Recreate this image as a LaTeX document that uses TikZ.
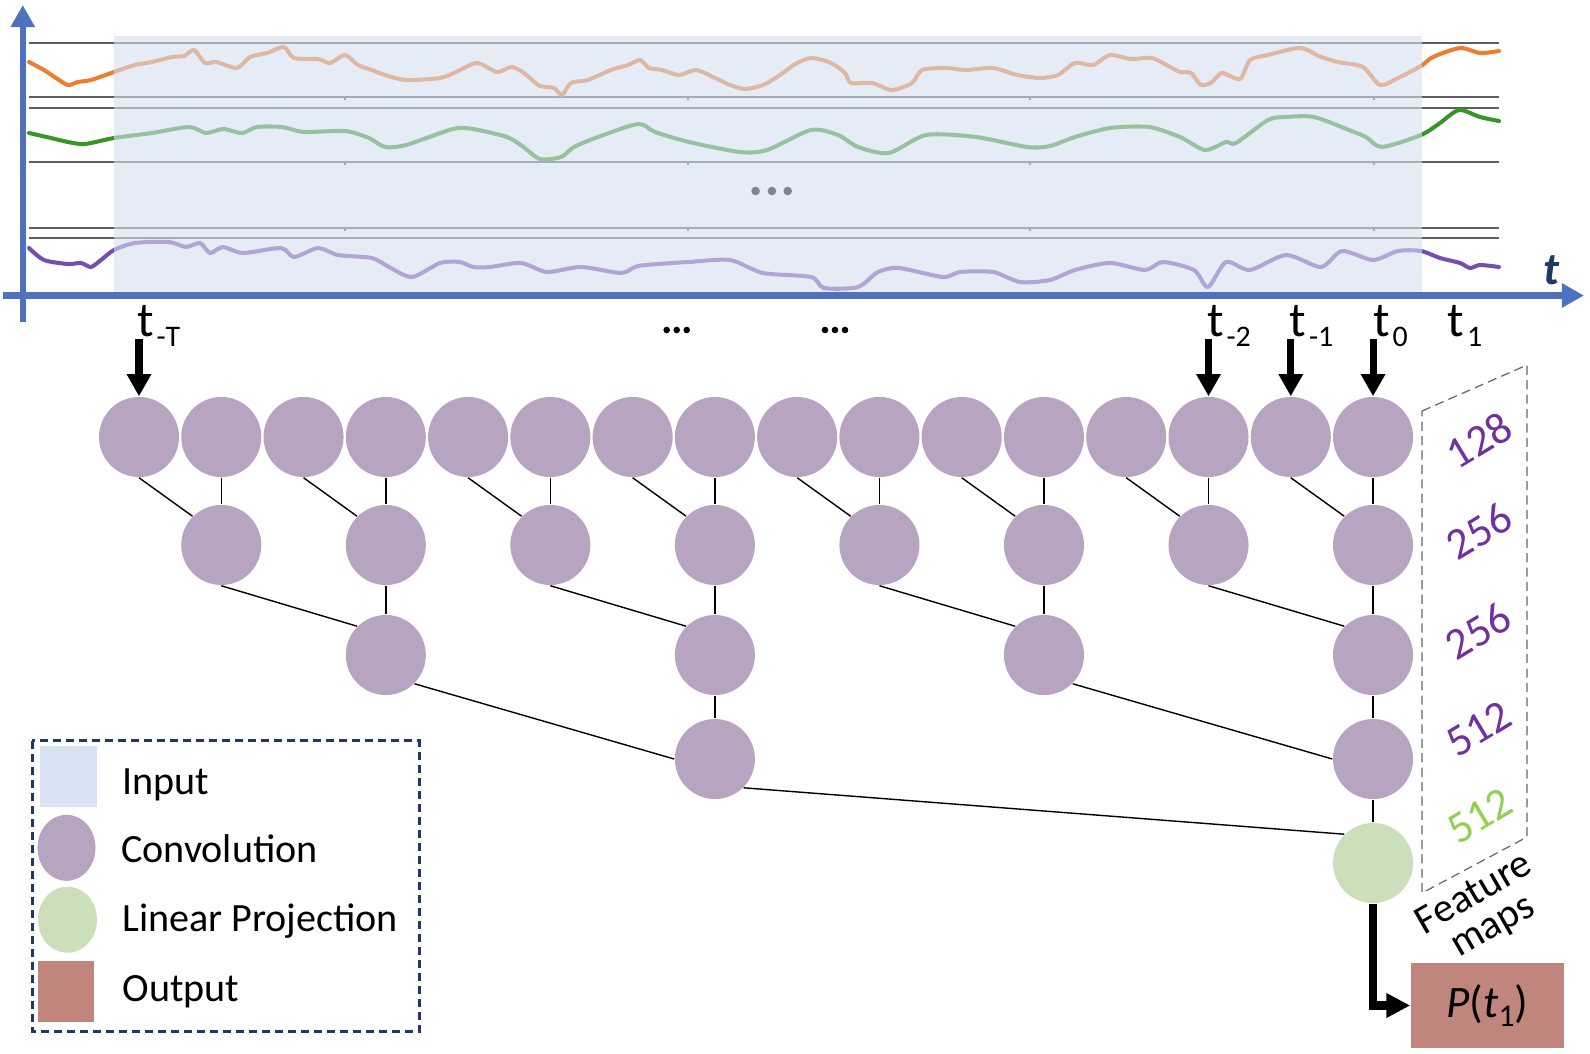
\documentclass[tikz,border=0pt]{standalone}
\usepackage{fontspec}
\setmainfont{Carlito}
\usetikzlibrary{arrows.meta,shapes.geometric}
\definecolor{axisblue}{RGB}{79,114,190}
\definecolor{navy}{RGB}{31,56,100}
\definecolor{convc}{RGB}{182,164,193}
\definecolor{linc}{RGB}{203,223,186}
\definecolor{outc}{RGB}{192,133,124}
\definecolor{inpc}{RGB}{218,227,243}
\definecolor{shadec}{RGB}{214,224,240}
\definecolor{orangec}{RGB}{237,125,49}
\definecolor{greenc}{RGB}{56,150,40}
\definecolor{purplec}{RGB}{118,78,176}
\definecolor{numpurple}{RGB}{112,48,160}
\definecolor{numgreen}{RGB}{146,208,80}
\definecolor{chartline}{RGB}{95,95,95}
\definecolor{dotgrey}{RGB}{128,132,140}
\definecolor{legnavy}{RGB}{32,56,100}
\newcommand{\tlab}[1]{{\fontsize{14pt}{14pt}\selectfont t}\hspace{0.8pt}\raisebox{-3pt}{\fontsize{8.5pt}{8.5pt}\selectfont #1}}
\begin{document}
\begin{tikzpicture}[x=0.01cm,y=-0.01cm,
  conv/.style={circle, fill=convc, minimum size=0.8cm, inner sep=0pt},
  linp/.style={circle, fill=linc, minimum size=0.8cm, inner sep=0pt},
  edge/.style={line width=0.4pt, black},
  inarrow/.style={line width=2pt, -{Triangle[width=6.6pt,length=6.3pt]}},
  outarrow/.style={line width=2.3pt, -{Triangle[width=6.6pt,length=6.8pt]}},
  axisarrow/.style={axisblue, line width=1.85pt, -{Triangle[width=6.6pt,length=6.3pt]}},
  gridline/.style={chartline, line width=0.5pt},
  series/.style={line width=1.15pt, line join=round, line cap=round},
  lbl/.style={inner sep=0pt, anchor=base west},
  num/.style={rotate=31, inner sep=0pt, font=\fontsize{12.6pt}{13pt}\selectfont},
  legtext/.style={anchor=base west, inner sep=0pt, font=\fontsize{11.4pt}{13pt}\selectfont},
  fmbox/.style={draw=black!60, line width=0.35pt, dash pattern=on 2.6pt off 1.5pt},
  legbox/.style={draw=legnavy, line width=0.7pt, dash pattern=on 2.3pt off 1.4pt}
]
\useasboundingbox (0,0) rectangle (1590,1054);

% ---------- chart ----------
\foreach \y in {43,97,108,162,228,238}
  \draw[gridline] (29,\y) -- (1499,\y);
\foreach \x in {345,688,1030,1374}
  \foreach \y in {97,162,228}
    \draw[chartline, line width=0.8pt] (\x,\y) -- (\x,\y+3);

\draw[series, orangec] plot[smooth, tension=0.45] coordinates {
(29,62) (44,70) (56,78) (68,85) (78,82) (91,80) (114,72) (135,65) (152,62) (172,57) (184,56) (194,50) (205,63) (216,62) (237,68) (250,57) (267,53) (284,47) (294,58) (318,59) (330,63) (345,55) (358,65) (372,70) (385,75) (406,80) (440,78) (456,72) (477,63) (497,72) (511,67) (521,71) (530,78) (540,86) (554,88) (562,95) (571,83) (588,80) (611,70) (628,65) (640,60) (649,68) (662,70) (679,75) (696,70) (713,77) (730,85) (745,89) (763,85) (780,75) (797,63) (812,58) (831,63) (845,73) (851,83) (872,83) (892,90) (912,83) (922,70) (946,68) (966,70) (993,68) (1017,75) (1040,78) (1058,75) (1075,63) (1093,65) (1110,55) (1131,59) (1152,58) (1170,67) (1180,72) (1191,73) (1201,85) (1212,82) (1222,73) (1240,79) (1250,60) (1268,55) (1300,48) (1321,57) (1338,62) (1363,67) (1380,85) (1398,78) (1421,66) (1433,57) (1460,48) (1480,53) (1499,51)};

\draw[series, greenc] plot[smooth, tension=0.45] coordinates {
(29,133) (51,138) (68,142) (85,144) (114,138) (152,133) (189,127) (206,133) (223,129) (242,133) (257,127) (282,127) (304,132) (345,131) (369,138) (385,147) (406,145) (453,129) (473,129) (507,137) (522,146) (540,159) (561,157) (574,147) (598,137) (638,124) (655,132) (689,142) (740,152) (767,150) (811,130) (838,135) (858,147) (889,153) (926,135) (976,137) (1027,147) (1050,146) (1075,137) (1110,128) (1149,127) (1180,137) (1205,150) (1226,142) (1236,143) (1268,120) (1286,117) (1314,117) (1349,130) (1366,137) (1382,147) (1421,135) (1440,123) (1459,110) (1480,117) (1499,121)};

\draw[series, purplec] plot[smooth, tension=0.45] coordinates {
(29,248) (44,260) (68,264) (81,263) (91,267) (101,260) (114,250) (135,243) (169,242) (186,247) (200,243) (210,253) (223,247) (243,253) (281,248) (294,257) (318,248) (338,255) (372,258) (389,267) (412,277) (440,263) (460,262) (473,267) (490,267) (521,263) (547,272) (581,267) (621,273) (638,266) (672,263) (689,262) (730,260) (763,273) (811,277) (824,288) (858,287) (878,272) (899,268) (943,277) (960,272) (993,272) (1020,282) (1050,280) (1075,270) (1110,263) (1145,270) (1163,262) (1194,270) (1208,287) (1226,262) (1250,270) (1286,255) (1321,267) (1342,251) (1373,260) (1398,251) (1421,251) (1440,258) (1460,263) (1470,268) (1480,265) (1499,267)};

% input window (translucent)
\fill[shadec, fill opacity=0.6] (114,36) rectangle (1422,293);
\foreach \x in {755.6,771.9,787.7}
  \fill[dotgrey] (\x,191) circle (4.3);

% axes
\coordinate (xo) at (3,295.5);
\coordinate (xe) at (1584,295.5);
\coordinate (yo) at (22.8,322);
\coordinate (ye) at (22.8,5);
\draw[axisarrow] (xo) -- (xe);
\draw[axisarrow] (yo) -- (ye);
\node[text=navy, font=\fontsize{13pt}{13pt}\selectfont\bfseries\itshape, inner sep=0pt] (taxis) at (1551,270) {t};

% ---------- tree ----------
\foreach \i in {0,...,15}
  \node[conv] (a\i) at ({139+82.27*\i},437) {};
\foreach \i in {1,3,...,15}
  \node[conv] (b\i) at ({139+82.27*\i},545) {};
\foreach \i in {3,7,11,15}
  \node[conv] (c\i) at ({139+82.27*\i},655) {};
\foreach \i in {7,15}
  \node[conv] (d\i) at ({139+82.27*\i},759) {};
\node[linp] (g) at ({139+82.27*15},863) {};

\foreach \i [evaluate=\i as \j using int(\i-1)] in {1,3,...,15} {
  \draw[edge] (a\j.south) -- (b\i.north west);
  \draw[edge] (a\i) -- (b\i);
}
\foreach \i [evaluate=\i as \j using int(\i-2)] in {3,7,11,15} {
  \draw[edge] (b\j.south) -- (c\i.north west);
  \draw[edge] (b\i) -- (c\i);
}
\foreach \i [evaluate=\i as \j using int(\i-4)] in {7,15} {
  \draw[edge] (c\j.south east) -- (d\i.west);
  \draw[edge] (c\i) -- (d\i);
}
\draw[edge] (d7.south east) -- (g.north west);
\draw[edge] (d15) -- (g);

% time labels and input arrows
\foreach \i in {0,13,14,15} {
  \path (a\i.north) ++(0,-57) coordinate (s\i);
  \draw[inarrow] (s\i) -- (a\i.north);
}
\node[lbl] (lT) at (136.5,336) {\tlab{-T}};
\node[lbl] (l2) at (1206.5,336) {\tlab{-2}};
\node[lbl] (l1) at (1289,336) {\tlab{-1}};
\node[lbl] (l0) at (1372.5,336) {\tlab{0}};
\node[lbl] (lp) at (1447,336) {\tlab{1}};
\foreach \x in {666.7,676.7,686.7,825,835,845}
  \fill[black] (\x,330) circle (3.3);

% output
\node[fill=outc, minimum width=1.53cm, minimum height=0.85cm, inner sep=0pt] (out) at (1487.5,1005.5)
  {\fontsize{12.8pt}{13pt}\selectfont\itshape P\upshape(\itshape t\upshape\raisebox{-2.5pt}{\fontsize{9pt}{9pt}\selectfont 1})};
\draw[outarrow] (g.south) |- (out.west);

% feature maps
\draw[fmbox] (1422,411) -- (1527,365) -- (1527,837) -- (1422,893) -- cycle;
\node[num, text=numpurple] (f1) at (1479,440) {128};
\node[num, text=numpurple] (f2) at (1479,531) {256};
\node[num, text=numpurple] (f3) at (1478,631) {256};
\node[num, text=numpurple] (f4) at (1479,729) {512};
\node[num, text=numgreen] (f5) at (1480,816) {512};
\node[rotate=30, inner sep=0pt, align=center, font=\fontsize{11.6pt}{10.6pt}\selectfont] (fm) at (1484,911) {Feature\\maps};

% ---------- legend ----------
\draw[legbox] (32.3,740.7) rectangle (419.3,1031.7);
\node[rectangle, fill=inpc, minimum width=0.567cm, minimum height=0.607cm, inner sep=0pt] (lgi) at (68.3,776.3) {};
\node[ellipse, fill=convc, minimum width=0.58cm, minimum height=0.66cm, inner sep=0pt] (lgc) at (66.5,847.8) {};
\node[ellipse, fill=linc, minimum width=0.59cm, minimum height=0.66cm, inner sep=0pt] (lgl) at (67.5,919.7) {};
\node[rectangle, fill=outc, minimum width=0.56cm, minimum height=0.607cm, inner sep=0pt] (lgo) at (66,991.3) {};
\node[legtext] (lti) at (122,794) {Input};
\node[legtext] (ltc) at (120.5,862.7) {Convolution};
\node[legtext] (ltl) at (121.5,931.7) {Linear Projection};
\node[legtext] (lto) at (122,1001.7) {Output};
\end{tikzpicture}
\end{document}
